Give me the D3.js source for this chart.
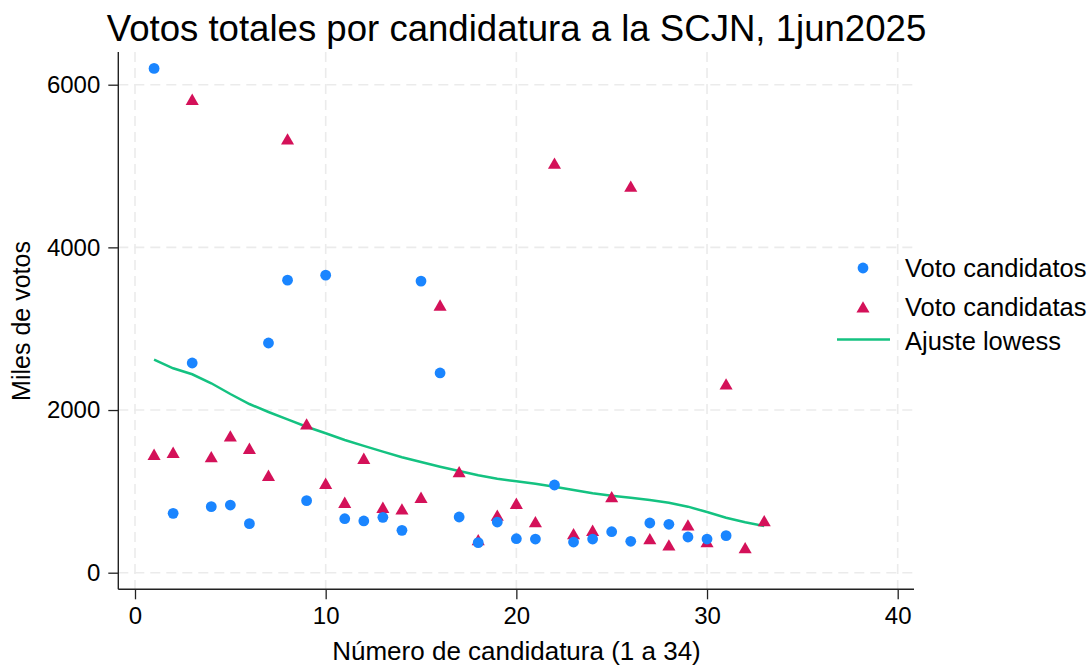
<!DOCTYPE html>
<html>
<head>
<meta charset="utf-8">
<script src="https://cdn.jsdelivr.net/npm/d3@7"></script>
<style>
  html, body { margin: 0; padding: 0; background: #fff; }
  svg { display: block; font-family: "Liberation Sans", Arial, sans-serif; }
</style>
</head>
<body>
<svg id="chart" width="1092" height="667"></svg>
<script>
// ---- data (miles de votos) ----
const candidatosX = [1,2,3,4,5,6,7,8,9,10,11,12,13,14,15,16,17,18,19,20,21,22,23,24,25,26,27,28,29,30,31];
const candidatosY = [6200,730,2578,812,832,603,2824,3597,886,3658,664,636,681,521,3585,2456,685,369,623,418,414,1078,377,414,504,386,611,595,439,414,455];
const candidatasX = [1,2,3,4,5,6,7,8,9,10,11,12,13,14,15,16,17,18,19,20,21,22,23,24,25,26,27,28,29,30,31,32,33];
const candidatasY = [1455,1480,5820,1426,1681,1529,1197,5333,1828,1099,865,1406,804,783,927,3290,1242,406,706,853,627,5035,480,521,934,4752,418,340,586,381,2320,308,640];
const lowessX = [1,2,3,4,5,6,7,8,9,10,11,12,13,14,15,16,17,18,19,20,21,22,23,24,25,26,27,28,29,30,31,32,33];
const lowessY = [2619,2513,2440,2329,2197,2074,1976,1886,1795,1714,1632,1560,1488,1419,1361,1303,1250,1198,1156,1124,1094,1057,1017,976,947,922,894,861,812,746,676,620,574];
const xTicks = [0,10,20,30,40];
const yTicks = [0,2000,4000,6000];
const legendLabels = ["Voto candidatos","Voto candidatas","Ajuste lowess"];
const titleText = "Votos totales por candidatura a la SCJN, 1jun2025";
const xTitle = "Número de candidatura (1 a 34)";
const yTitle = "Miles de votos";

const colBlue = "#1a85ff", colRed = "#d41159", colGreen = "#14c281";

const svg = d3.select("#chart");
const x = d3.scaleLinear().domain([0,40]).range([135,897.7]);
const y = d3.scaleLinear().domain([0,6000]).range([572.7,84.7]);
const axL = 118.3, axR = 914, axT = 52, axB = 589.3;

// gridlines
const grid = svg.append("g").attr("stroke","#ebebeb").attr("stroke-width",1.6).attr("stroke-dasharray","10,6");
grid.selectAll(".gx").data(xTicks).join("line")
  .attr("x1",d=>x(d)).attr("x2",d=>x(d)).attr("y1",axT).attr("y2",axB);
grid.selectAll(".gy").data(yTicks).join("line")
  .attr("y1",d=>y(d)).attr("y2",d=>y(d)).attr("x1",axL).attr("x2",axR);

// axes
const xAxis = d3.axisBottom(x).tickValues(xTicks).tickFormat(d3.format("d")).tickSize(10).tickPadding(8);
const yAxis = d3.axisLeft(y).tickValues(yTicks).tickFormat(d3.format("d")).tickSize(10).tickPadding(8);
const gx = svg.append("g").attr("transform",`translate(0,${axB})`).call(xAxis);
const gy = svg.append("g").attr("transform",`translate(${axL},0)`).call(yAxis);
[gx,gy].forEach(g=>{
  g.select(".domain").remove();
  g.selectAll(".tick line").attr("stroke","#222").attr("stroke-width",1.3);
  g.selectAll(".tick text").attr("fill","#000").attr("font-size",24).attr("font-family","Liberation Sans, Arial, sans-serif");
});
svg.append("line").attr("x1",axL).attr("x2",axR).attr("y1",axB).attr("y2",axB).attr("stroke","#222").attr("stroke-width",1.4);
svg.append("line").attr("x1",axL).attr("x2",axL).attr("y1",axT).attr("y2",axB).attr("stroke","#222").attr("stroke-width",1.4);

// lowess line
const lowess = lowessX.map((d,i)=>[d,lowessY[i]]);
svg.append("path").datum(lowess)
  .attr("fill","none").attr("stroke",colGreen).attr("stroke-width",2.5)
  .attr("d", d3.line().x(d=>x(d[0])).y(d=>y(d[1])));

// triangles (offset so the triangle's mid-height sits on the value)
const tri = d3.symbol().type(d3.symbolTriangle).size(74);
const triOff = 1.8;
svg.append("g").selectAll("path").data(candidatasX.map((d,i)=>[d,candidatasY[i]])).join("path")
  .attr("d",tri).attr("fill",colRed)
  .attr("transform",d=>`translate(${x(d[0])},${y(d[1]) + triOff})`);

// circles
svg.append("g").selectAll("circle").data(candidatosX.map((d,i)=>[d,candidatosY[i]])).join("circle")
  .attr("cx",d=>x(d[0])).attr("cy",d=>y(d[1])).attr("r",5.4).attr("fill",colBlue);

// title & axis titles
svg.append("text").attr("x",516.5).attr("y",41).attr("text-anchor","middle")
  .attr("font-size",36.6).attr("fill","#000").text(titleText);
svg.append("text").attr("x",516.5).attr("y",660).attr("text-anchor","middle")
  .attr("font-size",26).attr("fill","#000").text(xTitle);
svg.append("text").attr("transform","translate(30,321) rotate(-90)").attr("text-anchor","middle")
  .attr("font-size",25).attr("fill","#000").text(yTitle);

// legend
const lg = svg.append("g");
lg.append("circle").attr("cx",863).attr("cy",268).attr("r",5.4).attr("fill",colBlue);
lg.append("path").attr("d",tri).attr("fill",colRed).attr("transform",`translate(863,${307 + triOff})`);
lg.append("line").attr("x1",837).attr("x2",890).attr("y1",339.5).attr("y2",339.5).attr("stroke",colGreen).attr("stroke-width",2.5);
const ly = [277,316,350];
lg.selectAll("text").data(legendLabels).join("text")
  .attr("x",905).attr("y",(d,i)=>ly[i]).attr("font-size",25.5).attr("fill","#000").text(d=>d);
</script>
</body>
</html>
